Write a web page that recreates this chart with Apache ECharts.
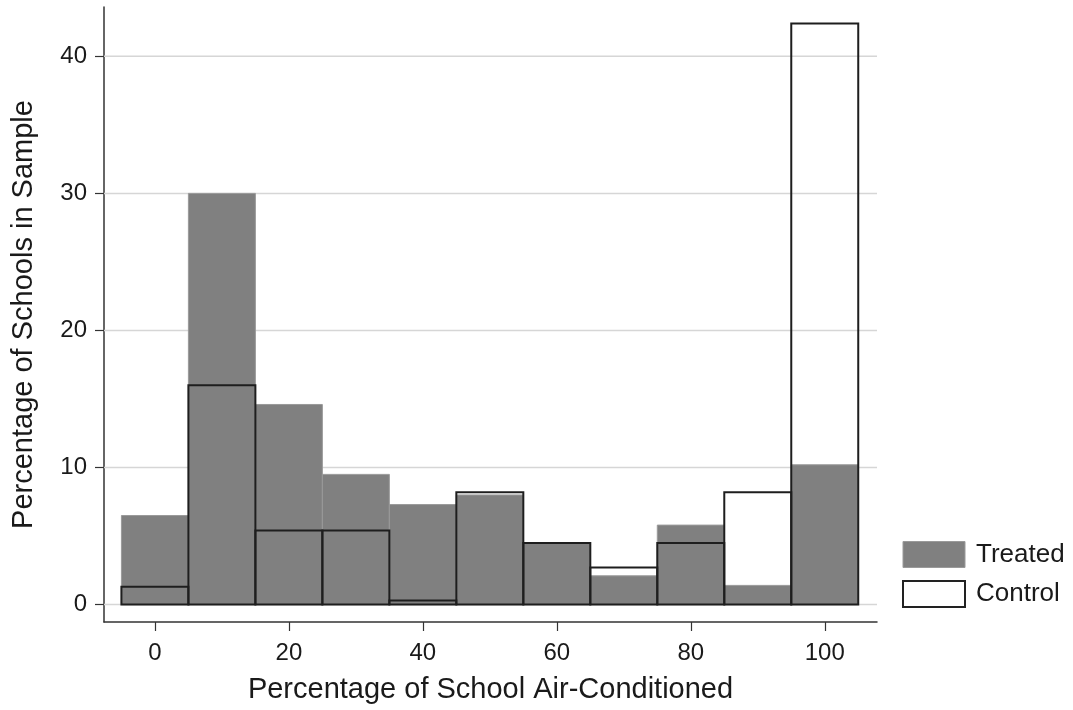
<!DOCTYPE html>
<html>
<head>
<meta charset="utf-8">
<script src="https://cdn.jsdelivr.net/npm/echarts@6/dist/echarts.min.js"></script>
<style>
  html, body { margin: 0; padding: 0; background: #fff; }
  #chart { width: 1073px; height: 710px; }
</style>
</head>
<body>
<div id="chart"></div>
<script>
// Histogram bins: centres of 10-point-wide bins of air-conditioned share
const binCenters = [0, 10, 20, 30, 40, 50, 60, 70, 80, 90, 100];
const binWidth = 10;
// Percentage of schools in each bin
const treated = [6.5, 30.0, 14.6, 9.5, 7.3, 8.0, 4.5, 2.1, 5.8, 1.4, 10.2];
const control = [1.3, 16.0, 5.4, 5.4, 0.3, 8.2, 4.5, 2.7, 4.5, 8.2, 42.4];
// Axis ticks
const xTicks = [0, 20, 40, 60, 80, 100];
const yTicks = [0, 10, 20, 30, 40];

const X_MIN = -7.6, X_MAX = 107.8;
const Y_MIN = -1.27, Y_MAX = 43.6;
const FONT = '"Liberation Sans", Arial, sans-serif';

function barData(values) {
  return binCenters.map((c, i) => [c - binWidth / 2, c + binWidth / 2, values[i]]);
}

function barRenderer(style) {
  return function (params, api) {
    const p0 = api.coord([api.value(0), 0]);
    const p1 = api.coord([api.value(1), api.value(2)]);
    return {
      type: 'rect',
      shape: { x: p0[0], y: p1[1], width: p1[0] - p0[0], height: p0[1] - p1[1] },
      style: style
    };
  };
}

const chart = echarts.init(document.getElementById('chart'), null, { renderer: 'canvas' });

chart.setOption({
  backgroundColor: '#ffffff',
  animation: false,
  grid: { left: 104, right: 196, top: 7, bottom: 88 },
  xAxis: {
    type: 'value',
    min: X_MIN,
    max: X_MAX,
    name: 'Percentage of School Air-Conditioned',
    nameLocation: 'middle',
    nameGap: 53,
    nameTextStyle: { fontFamily: FONT, fontSize: 29, color: '#1a1a1a' },
    axisLine: { show: true, onZero: false, lineStyle: { color: '#333', width: 1.5 } },
    axisTick: { show: true, customValues: xTicks, length: 9, lineStyle: { color: '#333', width: 1.2 } },
    axisLabel: { customValues: xTicks, margin: 19, fontFamily: FONT, fontSize: 24, color: '#1a1a1a' },
    splitLine: { show: false }
  },
  yAxis: {
    type: 'value',
    min: Y_MIN,
    max: Y_MAX,
    name: 'Percentage of Schools in Sample',
    nameLocation: 'middle',
    nameGap: 66,
    nameTextStyle: { fontFamily: FONT, fontSize: 29, color: '#1a1a1a' },
    axisLine: { show: true, onZero: false, lineStyle: { color: '#333', width: 1.5 } },
    axisTick: { show: true, customValues: yTicks, length: 9, lineStyle: { color: '#333', width: 1.2 } },
    axisLabel: { customValues: yTicks, margin: 17, fontFamily: FONT, fontSize: 24, color: '#1a1a1a' },
    splitLine: { show: false }
  },
  legend: {
    orient: 'vertical',
    left: 897,
    top: 536,
    itemWidth: 62,
    itemHeight: 26,
    itemGap: 12,
    textStyle: { fontFamily: FONT, fontSize: 26, color: '#1a1a1a', padding: [0, 0, 0, 6] },
    selectedMode: false,
    data: [
      { name: 'Treated', icon: 'rect', itemStyle: { color: '#808080', borderColor: '#9a9a9a', borderWidth: 1 } },
      { name: 'Control', icon: 'rect', itemStyle: { color: '#ffffff', borderColor: '#222', borderWidth: 2 } }
    ]
  },
  series: [
    {
      // horizontal reference lines at the y tick values
      name: 'grid',
      type: 'custom',
      silent: true,
      z: 1,
      data: yTicks.map(v => [v]),
      renderItem: function (params, api) {
        const a = api.coord([X_MIN, api.value(0)]);
        const b = api.coord([X_MAX, api.value(0)]);
        return {
          type: 'line',
          shape: { x1: a[0], y1: a[1], x2: b[0], y2: b[1] },
          style: { stroke: '#d6d6d6', lineWidth: 1.5 }
        };
      },
      encode: { y: 0 }
    },
    {
      name: 'Treated',
      type: 'custom',
      z: 2,
      itemStyle: { color: '#808080' },
      data: barData(treated),
      encode: { x: [0, 1], y: 2 },
      renderItem: barRenderer({ fill: '#808080', stroke: '#9a9a9a', lineWidth: 1 })
    },
    {
      name: 'Control',
      type: 'custom',
      z: 3,
      itemStyle: { color: '#ffffff' },
      data: barData(control),
      encode: { x: [0, 1], y: 2 },
      renderItem: barRenderer({ fill: 'none', stroke: '#1e1e1e', lineWidth: 2 })
    }
  ]
});
</script>
</body>
</html>
